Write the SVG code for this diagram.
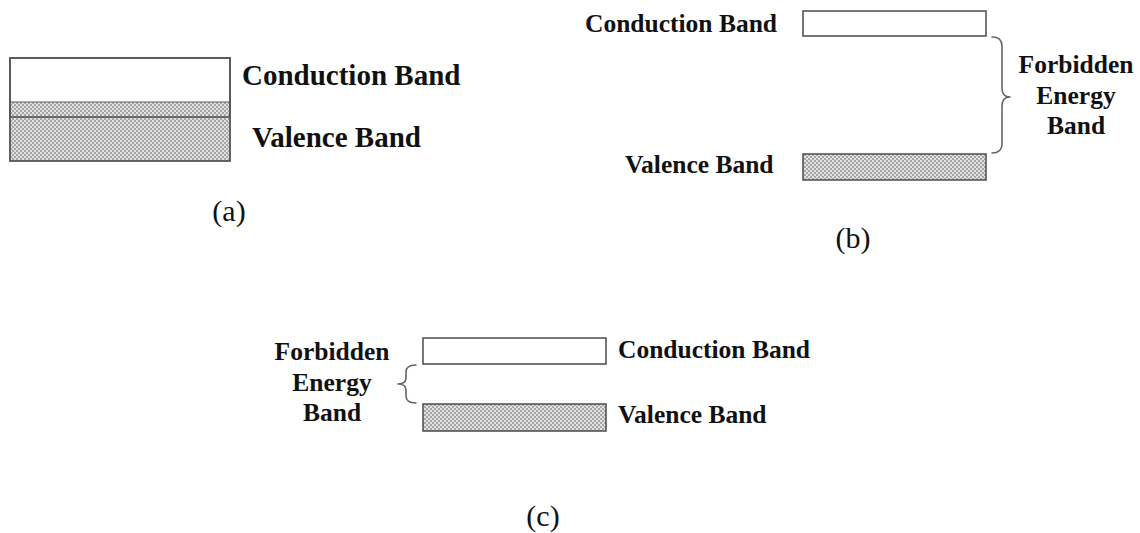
<svg xmlns="http://www.w3.org/2000/svg" width="1140" height="533" viewBox="0 0 1140 533">
  <style>
    .lbl { font-family: "Liberation Serif", "Times New Roman", serif; font-weight: bold; fill: #111; }
    .big { font-size: 29px; }
    .mid { font-size: 25.5px; }
    .cap { font-family: "Liberation Serif", "Times New Roman", serif; font-size: 30px; fill: #111; }
    .box { stroke: #555; stroke-width: 1.6; }
    .brace { fill: none; stroke: #666; stroke-width: 1.6; stroke-linecap: round; stroke-linejoin: round; }
  </style>
  <defs>
    <!-- fine checker shading for filled bands -->
    <pattern id="dots" width="4" height="4" patternUnits="userSpaceOnUse">
      <rect width="4" height="4" fill="#a6a6a6"/>
      <rect width="2" height="2" fill="#e2e2e2"/>
      <rect x="2" y="2" width="2" height="2" fill="#e2e2e2"/>
    </pattern>
  </defs>
  <rect width="1140" height="533" fill="#fff"/>

  <!-- (a) overlapping bands -->
  <g id="a-bands">
    <rect x="10" y="58" width="220" height="44" fill="#fff"/>
    <rect x="10" y="102" width="220" height="59" fill="url(#dots)"/>
    <rect class="box" x="10" y="58" width="220" height="59" fill="none"/>
    <rect class="box" x="10" y="102" width="220" height="59" fill="none" stroke-opacity="0.6"/>
    <rect class="box" x="10" y="58" width="220" height="103" fill="none"/>
  </g>
  <g id="a-labels">
    <text class="lbl big" x="242" y="85">Conduction Band</text>
    <text class="lbl big" x="252" y="147">Valence Band</text>
    <text class="cap" x="229" y="221" text-anchor="middle">(a)</text>
  </g>

  <!-- (b) wide gap -->
  <g id="b-conduction">
    <rect class="box" x="803" y="11" width="183" height="25" fill="#fff"/>
    <text class="lbl mid" x="585" y="32">Conduction Band</text>
  </g>
  <g id="b-valence">
    <rect class="box" x="803" y="154" width="183" height="26" fill="url(#dots)"/>
    <text class="lbl mid" x="625" y="173">Valence Band</text>
  </g>
  <g id="b-gap">
    <path class="brace" d="M992 37 Q1002 37 1002 46 L1002 88 Q1002 97 1010 97 Q1002 97 1002 106 L1002 144 Q1002 153 992 153"/>
    <text class="lbl mid" x="1076" y="73" text-anchor="middle">Forbidden</text>
    <text class="lbl mid" x="1076" y="104" text-anchor="middle">Energy</text>
    <text class="lbl mid" x="1076" y="134" text-anchor="middle">Band</text>
  </g>
  <text class="cap" x="853" y="248" text-anchor="middle">(b)</text>

  <!-- (c) narrow gap -->
  <g id="c-conduction">
    <rect class="box" x="423" y="338" width="183" height="26" fill="#fff"/>
    <text class="lbl mid" x="618" y="358">Conduction Band</text>
  </g>
  <g id="c-valence">
    <rect class="box" x="423" y="404" width="183" height="27" fill="url(#dots)"/>
    <text class="lbl mid" x="618" y="423">Valence Band</text>
  </g>
  <g id="c-gap">
    <path class="brace" d="M416 365 Q406 365 406 372 L406 378 Q406 384 398 384 Q406 384 406 390 L406 396 Q406 403 416 403"/>
    <text class="lbl mid" x="332" y="360" text-anchor="middle">Forbidden</text>
    <text class="lbl mid" x="332" y="391" text-anchor="middle">Energy</text>
    <text class="lbl mid" x="332" y="421" text-anchor="middle">Band</text>
  </g>
  <text class="cap" x="543" y="526" text-anchor="middle">(c)</text>
</svg>
